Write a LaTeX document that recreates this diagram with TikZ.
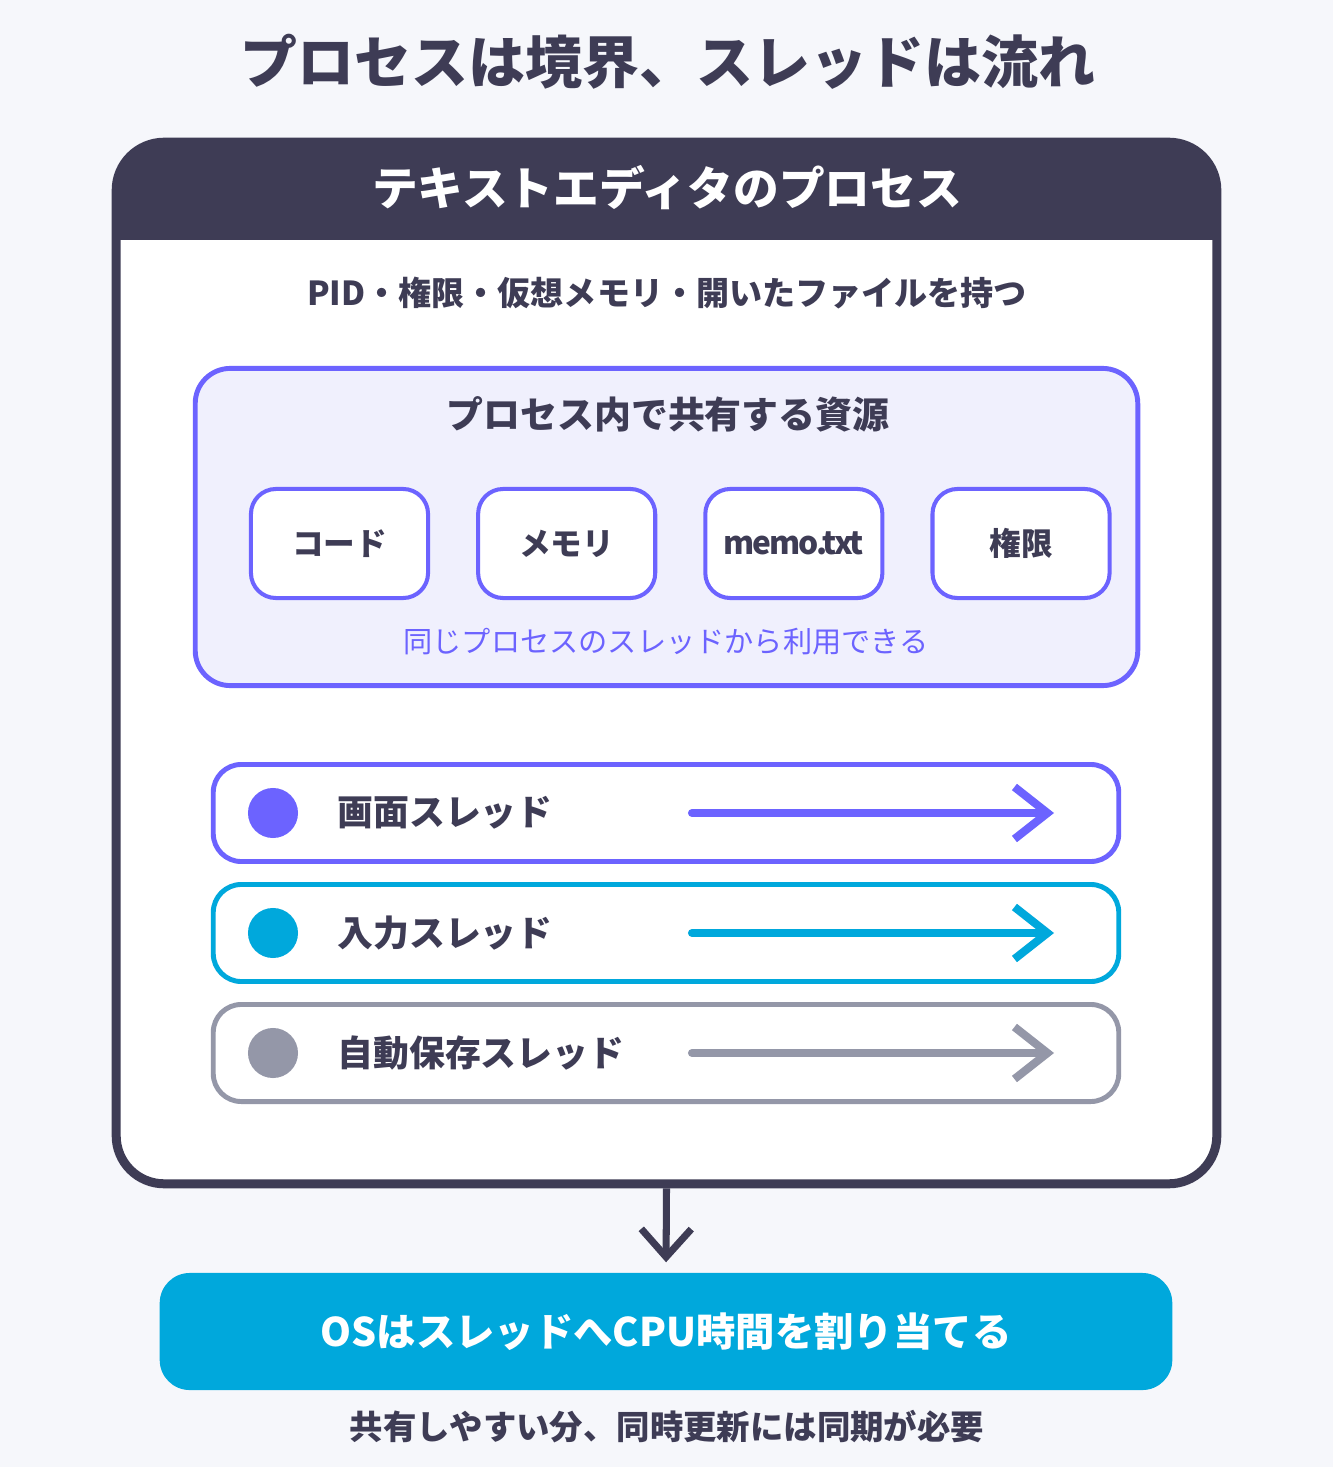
\documentclass[tikz,border=0pt]{standalone}
\usepackage{fontspec}
\setmainfont{Noto Sans CJK JP}
\usetikzlibrary{positioning,arrows.meta}
\definecolor{ink}{HTML}{3E3C55}
\definecolor{paper}{HTML}{F6F7FB}
\definecolor{violet}{HTML}{6C63FF}
\definecolor{lilac}{HTML}{F0F0FD}
\definecolor{sky}{HTML}{00A8DC}
\definecolor{slate}{HTML}{9497A8}
\newcommand{\fs}[1]{\fontsize{#1}{#1}\selectfont}

\begin{document}
\begin{tikzpicture}[x=0.01cm,y=-0.01cm,
    res/.style={draw=violet, line width=1.15pt, fill=white, rounded corners=0.25cm,
      minimum width=1.77cm, minimum height=1.09cm, text=ink, font=\bfseries\fs{9pt}},
    thread/.style={draw=#1, line width=1.4pt, fill=white, rounded corners=0.28cm,
      minimum width=9.05cm, minimum height=0.97cm},
    dot/.style={circle, fill=#1, minimum size=0.5cm, inner sep=0pt},
    label/.style={anchor=west, text=ink, font=\bfseries\fs{10.2pt}},
    flow/.style={draw=#1, line width=2.3pt, line cap=round,
      -{Straight Barb[length=0.33cm, width=0.52cm]}}]
  \useasboundingbox[fill=paper] (0,0) rectangle (1333,1467);
  \node (title) at (668,62) {\bfseries\fs{16.2pt}\color{ink}プロセスは境界、スレッドは流れ};
  % process box with dark header
  \node (proc) [draw=ink, line width=2.56pt, fill=white, rounded corners=0.48cm,
    minimum width=11cm, minimum height=10.41cm] at (666.5,663) {};
  \fill[ink, rounded corners=0.46cm] (115,140) rectangle (1218,240);
  \fill[ink] (115,190) rectangle (1218,240);
  \node (head) at (667,188) {\bfseries\fs{13pt}\color{white}テキストエディタのプロセス};
  \node (attrs) at (667,293) {\bfseries\fs{9.4pt}\color{ink}PID・権限・仮想メモリ・開いたファイルを持つ};
  % shared resources
  \node (shared) [draw=violet, line width=1.4pt, fill=lilac, rounded corners=0.35cm,
    minimum width=9.42cm, minimum height=3.17cm] at (666.5,527) {};
  \node (sharedtitle) at (668,414) {\bfseries\fs{10.5pt}\color{ink}プロセス内で共有する資源};
  \node (code) [res] at (339.5,543.5) {コード};
  \node (mem) [res, right=0.46cm of code] {メモリ};
  \node (file) [res, right=0.46cm of mem] {\addfontfeature{LetterSpace=-7}memo.txt};
  \node (perm) [res, right=0.46cm of file] {権限};
  \node (caption) at (666,642) {\fs{8.3pt}\color{violet}同じプロセスのスレッドから利用できる};
  % threads
  \foreach \y/\c/\t [count=\i] in {813/violet/画面スレッド, 933/sky/入力スレッド, 1053/slate/自動保存スレッド} {
    \node (t\i) [thread=\c] at (666,\y) {};
    \node (d\i) [dot=\c] at (273,\y) {};
    \node (l\i) [label] at (325,\y) {\t};
    \coordinate (a\i) at (692,\y);
    \coordinate (b\i) at (1054,\y);
    \draw[flow=\c] (a\i) -- (b\i);
  }
  % scheduler
  \node (os) [fill=sky, rounded corners=0.3cm, minimum width=10.12cm, minimum height=1.17cm,
    text=white, font=\bfseries\fs{11.2pt}] at (666,1331.5) {OSはスレッドへCPU時間を割り当てる};
  \draw[ink, line width=2pt, shorten >=0.1cm, -{Straight Barb[length=0.28cm, width=0.5cm]}] (proc.south) -- (os.north);
  \node (note) at (667,1427) {\bfseries\fs{9.5pt}\color{ink}共有しやすい分、同時更新には同期が必要};
\end{tikzpicture}
\end{document}
